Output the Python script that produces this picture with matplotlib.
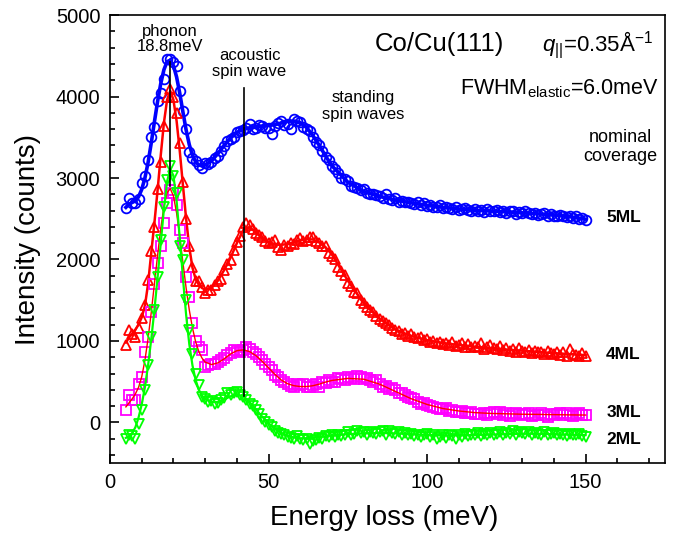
import matplotlib
matplotlib.use("Agg")
import matplotlib.pyplot as plt
import numpy as np
from matplotlib.ticker import MultipleLocator

plt.rcParams['font.family'] = ['Liberation Sans', 'DejaVu Sans']
plt.rcParams['mathtext.fontset'] = 'custom'
plt.rcParams['mathtext.rm'] = 'Liberation Sans'
plt.rcParams['mathtext.it'] = 'Liberation Sans:italic'

# measured points, 1 meV grid from 5 to 150 meV
energy = np.arange(5, 151, 1)

ml5 = [2630, 2750, 2690, 2690, 2740, 2940, 3020, 3225, 3510, 3630,
       3940, 4050, 4210, 4460, 4460, 4430, 4370, 4065, 3820, 3600,
       3325, 3250, 3210, 3165, 3125, 3190, 3170, 3200, 3250, 3270,
       3330, 3390, 3450, 3480, 3510, 3560, 3575, 3590, 3620, 3660,
       3600, 3620, 3650, 3640, 3620, 3610, 3535, 3640, 3680, 3700,
       3650, 3660, 3600, 3720, 3700, 3690, 3630, 3600, 3575, 3500,
       3440, 3410, 3330, 3260, 3225, 3150, 3110, 3065, 3000, 2990,
       2960, 2900, 2895, 2880, 2850, 2870, 2820, 2800, 2810, 2790,
       2780, 2760, 2800, 2740, 2735, 2760, 2710, 2720, 2700, 2710,
       2690, 2680, 2700, 2670, 2690, 2660, 2670, 2640, 2650, 2670,
       2630, 2640, 2635, 2620, 2650, 2610, 2620, 2630, 2610, 2590,
       2620, 2600, 2610, 2580, 2620, 2600, 2590, 2610, 2580, 2600,
       2570, 2590, 2600, 2560, 2580, 2570, 2590, 2575, 2560, 2570,
       2550, 2560, 2575, 2540, 2560, 2540, 2530, 2550, 2530, 2520,
       2535, 2510, 2530, 2500, 2510, 2490]

ml4 = [950, 1130, 1080, 1050, 1160, 1280, 1440, 1750, 2100, 2400,
       2860, 3200, 3640, 4000, 4090, 4000, 3800, 3435, 2950, 2500,
       2160, 1910, 1730, 1730, 1665, 1590, 1620, 1625, 1690, 1730,
       1760, 1870, 1940, 1995, 2120, 2215, 2290, 2400, 2450, 2420,
       2370, 2320, 2300, 2280, 2230, 2200, 2210, 2240, 2150, 2120,
       2180, 2160, 2200, 2190, 2240, 2260, 2230, 2240, 2270, 2280,
       2230, 2200, 2170, 2160, 2080, 2040, 2000, 1910, 1860, 1810,
       1710, 1680, 1600, 1585, 1500, 1460, 1420, 1380, 1350, 1300,
       1270, 1250, 1215, 1200, 1160, 1135, 1120, 1090, 1100, 1060,
       1080, 1050, 1040, 1050, 1010, 1020, 990, 1000, 970, 990,
       960, 980, 950, 990, 940, 950, 970, 930, 960, 920,
       940, 930, 970, 900, 930, 950, 910, 900, 940, 890,
       910, 880, 900, 870, 910, 880, 860, 890, 850, 880,
       860, 870, 840, 880, 850, 840, 870, 830, 860, 820,
       900, 840, 830, 810, 850, 820]

ml3 = [150, 330, 270, 270, 475, 560, 865, 1050, 1360, 1700,
       1955, 2160, 2445, 2690, 2855, 2815, 2670, 2365, 2200, 1790,
       1545, 1215, 1000, 925, 885, 680, 700, 720, 720, 740,
       765, 790, 825, 850, 885, 880, 870, 885, 930, 905,
       860, 845, 800, 765, 720, 680, 640, 580, 560, 515,
       500, 475, 450, 435, 470, 460, 475, 430, 435, 460,
       475, 440, 495, 480, 515, 500, 495, 550, 535, 520,
       560, 540, 535, 570, 560, 530, 540, 515, 500, 515,
       470, 435, 450, 415, 420, 395, 360, 355, 340, 310,
       300, 290, 250, 230, 240, 210, 200, 190, 180, 170,
       160, 175, 140, 150, 130, 130, 140, 110, 120, 130,
       105, 100, 105, 120, 95, 110, 130, 100, 130, 90,
       110, 80, 100, 120, 105, 90, 100, 115, 80, 95,
       85, 110, 90, 70, 100, 85, 105, 110, 90, 120,
       95, 80, 105, 110, 90, 85]

ml2 = [-200, -160, -170, -200, -20, 150, 395, 700, 1050, 1380,
       1790, 2240, 2650, 2980, 3145, 3020, 2815, 2160, 1995, 1500,
       1135, 845, 600, 455, 310, 290, 250, 260, 230, 240,
       270, 300, 355, 330, 355, 370, 330, 310, 280, 230,
       200, 150, 100, 45, 10, -35, -60, -100, -130, -140,
       -160, -180, -190, -200, -170, -200, -220, -200, -260, -230,
       -220, -190, -200, -170, -180, -150, -180, -160, -170, -160,
       -120, -150, -140, -110, -130, -120, -150, -120, -130, -140,
       -120, -110, -150, -100, -130, -140, -120, -150, -130, -160,
       -140, -170, -150, -180, -160, -140, -180, -150, -200, -180,
       -160, -190, -150, -170, -200, -160, -180, -140, -170, -150,
       -160, -130, -170, -140, -150, -130, -160, -140, -120, -150,
       -130, -140, -110, -150, -120, -130, -140, -120, -150, -130,
       -140, -160, -120, -150, -140, -130, -160, -140, -150, -170,
       -140, -150, -160, -140, -170, -180]

# fitted curves
fit_energy = [5, 6, 7, 8, 9, 10, 11, 12, 13, 14, 15, 16, 17, 18, 19, 20,
              21, 22, 23, 24, 25, 26, 27, 28, 29, 30,
              32, 34, 36, 38, 40, 42, 44, 46, 48, 50, 52, 54, 56, 58, 60,
              62, 64, 66, 68, 70,
              75, 80, 85, 90, 95, 100, 105, 110, 115, 120, 125, 130, 135,
              140, 145, 150]

fit5 = [2640, 2680, 2700, 2720, 2770, 2860, 3000, 3190, 3430, 3690,
        3940, 4160, 4330, 4430, 4445, 4380, 4240, 4040, 3810, 3590,
        3410, 3280, 3200, 3160, 3150, 3160,
        3210, 3300, 3400, 3490, 3560, 3600, 3615, 3625, 3635, 3645,
        3655, 3675, 3695, 3700, 3680, 3620, 3520, 3400, 3270, 3150,
        2950, 2835, 2775, 2730, 2695, 2665, 2640, 2620, 2605, 2595,
        2585, 2573, 2560, 2545, 2525, 2495]

fit4 = [980, 1040, 1090, 1140, 1200, 1290, 1430, 1700, 2080, 2450,
        2850, 3280, 3680, 3960, 4070, 3960, 3700, 3330, 2910, 2500,
        2150, 1900, 1760, 1690, 1650, 1630,
        1650, 1740, 1870, 2020, 2200, 2360, 2400, 2330, 2260, 2210,
        2190, 2180, 2190, 2210, 2235, 2250, 2245, 2210, 2150, 2060,
        1740, 1460, 1270, 1140, 1060, 1010, 975, 950, 930, 912,
        895, 880, 865, 850, 838, 825]

fit3 = [190, 240, 290, 350, 430, 560, 760, 1030, 1350, 1700,
        2050, 2380, 2650, 2820, 2870, 2780, 2570, 2280, 1960, 1650,
        1380, 1160, 990, 870, 790, 740,
        710, 730, 780, 840, 880, 890, 870, 820, 750, 670,
        590, 520, 475, 450, 440, 440, 450, 470, 495, 515,
        540, 530, 470, 380, 290, 220, 170, 140, 120, 110,
        105, 100, 98, 95, 92, 90]

fit2 = [-190, -170, -130, -60, 60, 220, 430, 700, 1020, 1380,
        1780, 2200, 2620, 2960, 3110, 3030, 2720, 2260, 1770, 1320,
        960, 700, 520, 400, 330, 290,
        250, 250, 280, 320, 340, 320, 250, 160, 70, -10,
        -80, -130, -165, -185, -195, -195, -190, -180, -170, -160,
        -145, -135, -130, -135, -145, -155, -160, -160, -155, -150,
        -145, -140, -140, -145, -150, -155]

fig = plt.figure(figsize=(6.75, 5.41), dpi=100)
ax = fig.add_axes([0.163, 0.144, 0.822, 0.828])

mk = dict(markersize=7, markerfacecolor='none', markeredgewidth=1.3,
          linestyle='none')

ax.plot(energy, ml5, marker='o', color='#0000ff', **mk)
ax.plot(fit_energy, fit5, color='#0000ff', lw=2.6)

ax.plot(energy, ml4, marker='^', color='#ff0000', **mk)
ax.plot(fit_energy, fit4, color='#ff0000', lw=1.8)

ax.plot(energy, ml3, marker='s', color='#ff00ff', **mk)
ax.plot(fit_energy, fit3, color='#ff0000', lw=1.0)

ax.plot(energy, ml2, marker='v', color='#00ff00', **mk)
ax.plot(fit_energy, fit2, color='#00ff00', lw=1.6)

# markers for phonon and acoustic spin wave
ax.plot([18.8, 18.8], [2900, 4430], color='black', lw=1.2)
ax.plot([42.3, 42.3], [320, 4100], color='black', lw=1.2)

ax.set_xlim(0, 175)
ax.set_ylim(-500, 5000)
ax.xaxis.set_major_locator(MultipleLocator(50))
ax.xaxis.set_minor_locator(MultipleLocator(10))
ax.yaxis.set_major_locator(MultipleLocator(1000))
ax.yaxis.set_minor_locator(MultipleLocator(200))
ax.tick_params(which='both', direction='in', width=1.2, labelsize=14.5)
ax.tick_params(which='major', length=6.5, pad=7)
ax.tick_params(which='minor', length=3.5)
for s in ax.spines.values():
    s.set_linewidth(1.2)

ax.set_xlabel('Energy loss (meV)', fontsize=20)
ax.set_ylabel('Intensity (counts)', fontsize=20)
ax.xaxis.set_label_coords(0.495, -0.094)
ax.yaxis.set_label_coords(-0.125, 0.5)

ax.text(18.9, 4710, 'phonon\n18.8meV', ha='center', va='center',
        fontsize=12, linespacing=1.0)
ax.text(44, 4410, 'acoustic\nspin wave', ha='center', va='center',
        fontsize=12, linespacing=1.1)
ax.text(80, 3885, 'standing\nspin waves', ha='center', va='center',
        fontsize=12, linespacing=1.1)
ax.text(104, 4643, 'Co/Cu(111)', ha='center', va='center', fontsize=18.5)
ax.text(153.7, 4643, r'$\mathit{q}_{||}$=0.35Å$^{-1}$', ha='center',
        va='center', fontsize=16)
ax.text(141.9, 4100, r'FWHM$_{\mathrm{elastic}}$=6.0meV', ha='center',
        va='center', fontsize=15.5)
ax.text(161, 3380, 'nominal\ncoverage', ha='center', va='center',
        fontsize=13, linespacing=1.15)

ml_labels = ['5ML', '4ML', '3ML', '2ML']
ml_label_y = [2510, 837, 123, -209]
for lab, yy in zip(ml_labels, ml_label_y):
    ax.text(156.5, yy, lab, ha='left', va='center', fontsize=12.5,
            fontweight='bold')

fig.savefig('out.png', dpi=100)
